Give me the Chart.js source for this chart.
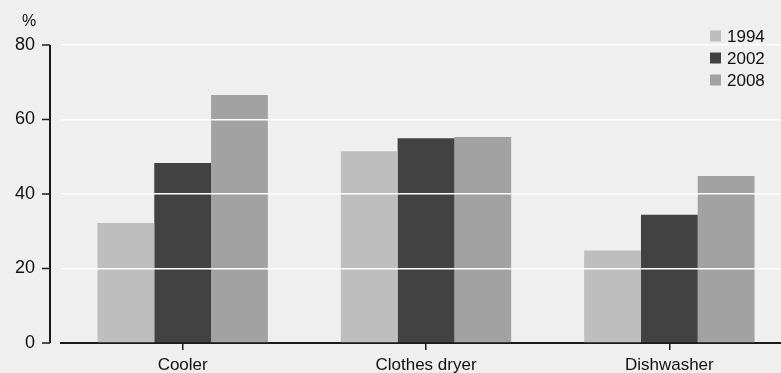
<!DOCTYPE html>
<html>
<head>
<meta charset="utf-8">
<script src="https://cdn.jsdelivr.net/npm/chart.js@4"></script>
<style>
  html, body { margin: 0; padding: 0; background: #efefef; overflow: hidden; }
  #wrap { width: 800px; height: 373px; }
</style>
</head>
<body>
<div id="wrap"><canvas id="chart" width="800" height="373"></canvas></div>
<script>
const categories = ["Cooler", "Clothes dryer", "Dishwasher"];
const years = ["1994", "2002", "2008"];
const values1994 = [32.2, 51.5, 24.8];
const values2002 = [48.3, 55.0, 34.4];
const values2008 = [66.6, 55.3, 44.8];
const yTicks = [0, 20, 40, 60, 80];

const colours = ["#bebebe", "#424242", "#a2a2a2"];
const FONT = "'Liberation Sans', Arial, sans-serif";

// y axis line with its tick marks, the % label and the legend
const extras = {
    id: "extras",
    afterDraw(chart) {
        const ctx = chart.ctx;
        const y = chart.scales.y;
        ctx.save();
        ctx.strokeStyle = "#1a1a1a";
        ctx.lineWidth = 2;
        ctx.beginPath();
        ctx.moveTo(50, y.getPixelForValue(80));
        ctx.lineTo(50, y.getPixelForValue(0));
        ctx.stroke();
        ctx.lineWidth = 1.5;
        yTicks.forEach(v => {
            const py = y.getPixelForValue(v);
            ctx.beginPath();
            ctx.moveTo(42, py);
            ctx.lineTo(50, py);
            ctx.stroke();
        });
        ctx.fillStyle = "#111";
        ctx.font = "16px " + FONT;
        ctx.textAlign = "center";
        ctx.textBaseline = "middle";
        ctx.fillText("%", 29, 22);

        ctx.textAlign = "left";
        ctx.font = "17px " + FONT;
        chart.data.datasets.forEach((ds, i) => {
            const cy = 36 + i * 22;
            ctx.fillStyle = ds.backgroundColor;
            ctx.fillRect(710, cy - 5.5, 11, 11);
            ctx.fillStyle = "#111";
            ctx.fillText(ds.label, 727, cy + 1);
        });
        ctx.restore();
    }
};

new Chart(document.getElementById("chart"), {
    type: "bar",
    data: {
        labels: categories,
        datasets: [
            { label: years[0], data: values1994, backgroundColor: colours[0] },
            { label: years[1], data: values2002, backgroundColor: colours[1] },
            { label: years[2], data: values2008, backgroundColor: colours[2] },
        ]
    },
    options: {
        responsive: false,
        animation: false,
        layout: { padding: { top: 45, left: 0, right: 9, bottom: 0 } },
        datasets: { bar: { categoryPercentage: 0.7, barPercentage: 1.0, borderWidth: 0 } },
        plugins: { legend: { display: false }, tooltip: { enabled: false } },
        scales: {
            x: {
                afterFit: (scale) => { scale.height = 30; },
                grid: { offset: false, drawOnChartArea: false, drawTicks: true, tickLength: 7, color: "#1a1a1a", lineWidth: 1.5 },
                border: { display: true, color: "#1a1a1a", width: 2 },
                ticks: { color: "#111", font: { family: FONT, size: 17 }, padding: 5 },
            },
            y: {
                min: 0,
                max: 80,
                afterFit: (scale) => { scale.width = 61; },
                afterBuildTicks: (scale) => { scale.ticks = yTicks.map(v => ({ value: v })); },
                grid: {
                    z: 1,
                    drawTicks: true,
                    tickLength: 24,
                    tickColor: "rgba(0,0,0,0)",
                    lineWidth: 1.5,
                    color: (c) => c.tick && c.tick.value === 0 ? "rgba(0,0,0,0)" : "#ffffff",
                },
                border: { display: false },
                ticks: { color: "#111", font: { family: FONT, size: 18 }, padding: 2 },
            }
        }
    },
    plugins: [extras]
});
</script>
</body>
</html>
